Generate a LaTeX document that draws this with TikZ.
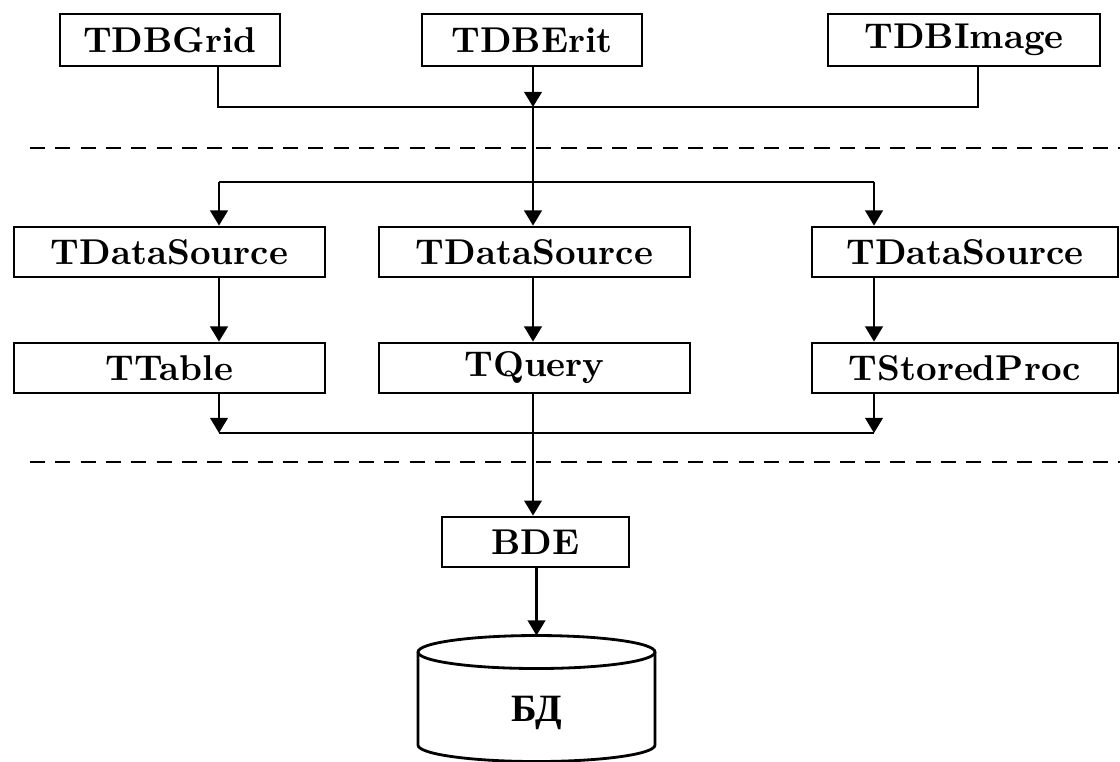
\documentclass[tikz,border=0pt]{standalone}
\usepackage{fontspec}
\usepackage{tikz}
\usetikzlibrary{arrows.meta}
\newfontfamily\cyrserif{Liberation Serif}

\begin{document}
\begin{tikzpicture}[x=1cm, y=-1cm,
        box/.style={draw, line width=0.8pt, inner sep=0pt, minimum height=0.5cm,
            font=\fontsize{10.2}{12}\selectfont\bfseries},
        conn/.style={line width=0.6pt},
        arr/.style={line width=0.6pt, -{Triangle[length=4.3pt, width=5pt]}},
        sep/.style={line width=0.6pt, dash pattern=on 4.3pt off 2.9pt}]
        \useasboundingbox (0,0) rectangle (11.2,7.61);

        % Spalten
        \coordinate (c1) at (2.19,0);
        \coordinate (c2) at (5.33,0);
        \coordinate (c3) at (8.74,0);

        % Steuerelemente
        \node[box, minimum width=2.20cm, minimum height=0.52cm] (grid)  at (1.70,0.40) {TDBGrid};
        \node[box, minimum width=2.20cm, minimum height=0.52cm] (erit)  at (5.32,0.40) {TDBErit};
        \node[box, minimum width=2.72cm, minimum height=0.52cm] (image) at (9.64,0.40) {TDBImage};

        \coordinate (bus1) at (5.33,1.07);
        \draw[conn] (grid.south -| 2.18,0) |- (bus1) -| (image.south -| 9.78,0);
        \draw[arr] (erit.south -| c2) -- (bus1);

        % Trennlinie 1
        \draw[sep] (0.30,1.48) -- (11.2,1.48);

        % Datenquellen
        \node[box, minimum width=3.11cm] (ds1) at (1.695,2.52) {TDataSource};
        \node[box, minimum width=3.11cm] (ds2) at (5.345,2.52) {TDataSource};
        \node[box, minimum width=3.06cm] (ds3) at (9.65,2.52) {TDataSource};

        \coordinate (bus2) at (5.33,1.82);
        \draw[conn] (bus1) -- (bus2);
        \draw[conn] (bus2 -| c1) -- (bus2 -| c3);
        \draw[arr] (bus2 -| c1) -- (ds1.north -| c1);
        \draw[arr] (bus2 -| c2) -- (ds2.north -| c2);
        \draw[arr] (bus2 -| c3) -- (ds3.north -| c3);

        % Datenmengen
        \node[box, minimum width=3.11cm] (tab)   at (1.695,3.68) {TTable};
        \node[box, minimum width=3.11cm] (query) at (5.345,3.68) {TQuery};
        \node[box, minimum width=3.06cm] (proc)  at (9.65,3.68) {TStoredProc};

        \draw[arr] (ds1.south -| c1) -- (tab.north -| c1);
        \draw[arr] (ds2.south -| c2) -- (query.north -| c2);
        \draw[arr] (ds3.south -| c3) -- (proc.north -| c3);

        \coordinate (bus3) at (5.33,4.33);
        \draw[conn] (bus3 -| c1) -- (bus3 -| c3);
        \draw[arr] (tab.south -| c1) -- (bus3 -| c1);
        \draw[arr] (proc.south -| c3) -- (bus3 -| c3);

        % Trennlinie 2
        \draw[sep] (0.30,4.62) -- (11.2,4.62);

        % BDE und Datenbank
        \node[box, minimum width=1.87cm] (bde) at (5.355,5.42) {BDE};
        \draw[arr] (query.south -| c2) -- (bde.north -| c2);

        \coordinate (dbtop) at (5.365,6.355);
        \draw[line width=0.8pt] (5.365,6.52) ellipse [x radius=1.185, y radius=0.165];
        \draw[line width=0.8pt] (4.18,6.52) -- (4.18,7.45)
            arc[start angle=180, end angle=0, x radius=1.185, y radius=0.165] -- (6.55,6.52);
        \node[font=\cyrserif\fontsize{11}{13}\selectfont\bfseries] (db) at (5.37,7.13) {БД};
        \draw[arr] (bde.south -| dbtop) -- (dbtop);

    \end{tikzpicture}
\end{document}
